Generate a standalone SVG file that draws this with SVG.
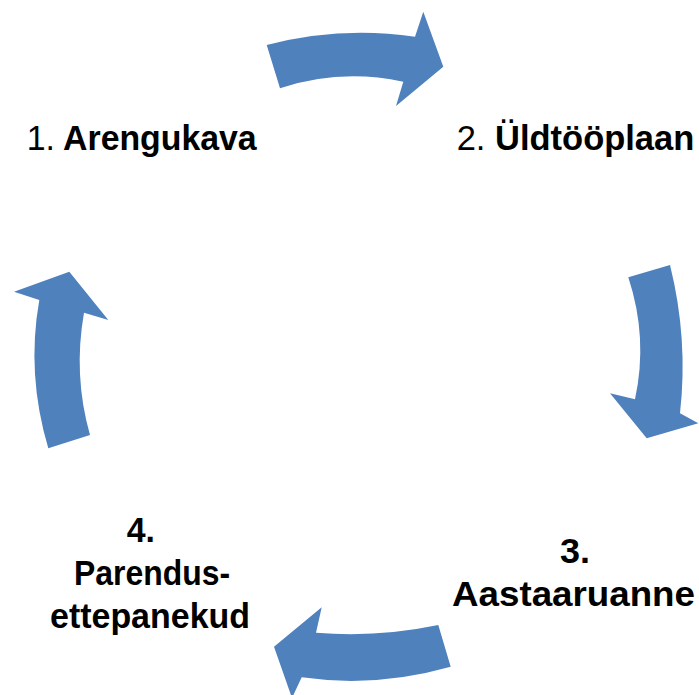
<svg xmlns="http://www.w3.org/2000/svg" width="699" height="695" viewBox="0 0 699 695">
<style>
.arrow{fill:#4f81bd;stroke:none}
.lbl{font-family:"Liberation Sans",Arial,sans-serif;font-size:35px;fill:#000}
.b{font-weight:bold}
.r{font-weight:normal}
</style>
<rect width="699" height="695" fill="#fff"/>
<g id="connectors">
<path id="arrow-1-2" class="arrow" d="M266.7,45 Q340,25.8 415,36.7 L423.3,11.7 L443.3,66.7 L396,106 L403.3,81.7 Q340,68.4 280,88.3 Z"/>
<path id="arrow-2-3" class="arrow" d="M628.3,277.3 L670,265 Q688.4,339 680,413.3 L698.3,423.3 L646.7,438.3 L610,393.3 L635,399.3 Q648.3,338 628.3,277.3 Z"/>
<path id="arrow-3-4" class="arrow" d="M438.3,625 L450.7,666.7 Q376,688 301.7,677.3 L292,698 L274,646.7 L321.7,607.3 L316,632.7 Q377,637.8 438.3,625 Z"/>
<path id="arrow-4-1" class="arrow" d="M48.3,448.3 Q26.2,374 39.3,300 L14,291.7 L69.3,271.7 L108.3,320 L84,312.7 Q73,375 90,435 Z"/>
</g>
<g id="node1">
<text class="lbl" x="26.7" y="150" textLength="230" lengthAdjust="spacingAndGlyphs"><tspan class="r">1.</tspan><tspan class="b"> Arengukava</tspan></text>
</g>
<g id="node2">
<text class="lbl" x="456.7" y="150" textLength="237.6" lengthAdjust="spacingAndGlyphs"><tspan class="r">2.</tspan><tspan class="b"> Üldtööplaan</tspan></text>
</g>
<g id="node3">
<text class="lbl b" x="560" y="563" textLength="30" lengthAdjust="spacingAndGlyphs">3.</text>
<text class="lbl b" x="452" y="606" textLength="243" lengthAdjust="spacingAndGlyphs">Aastaaruanne</text>
</g>
<g id="node4">
<text class="lbl b" x="126.7" y="542" textLength="28.3" lengthAdjust="spacingAndGlyphs">4.</text>
<text class="lbl b" x="74" y="585" textLength="156" lengthAdjust="spacingAndGlyphs">Parendus-</text>
<text class="lbl b" x="50" y="628" textLength="200" lengthAdjust="spacingAndGlyphs">ettepanekud</text>
</g>
</svg>
